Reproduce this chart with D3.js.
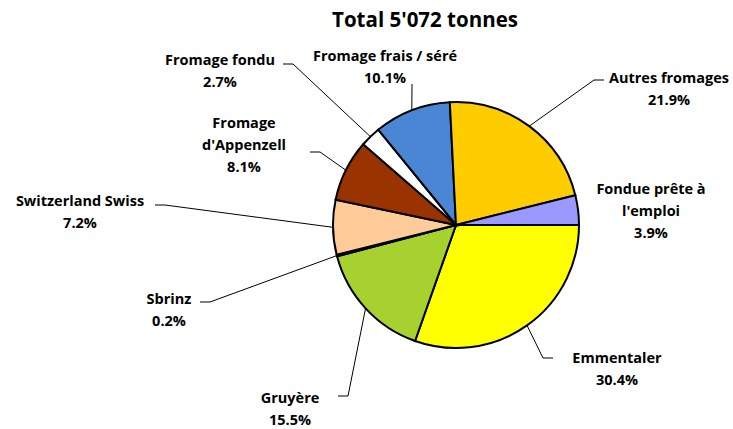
<!DOCTYPE html>
<html lang="fr">
<head>
    <meta charset="UTF-8">
    <title>Total 5'072 tonnes</title>
    <script src="https://d3js.org/d3.v7.min.js"></script>
    <style>
        body { margin: 0; background: #fff; }
        text { font-family: "Open Sans", Lato, sans-serif; font-weight: bold; fill: #000; }
        .slice { stroke: #000; stroke-width: 2; }
        .leader { stroke: #000; stroke-width: 1; fill: none; }
    </style>
</head>
<body>
    <script>
        // Data (clockwise from 3 o'clock)
        const categories = ["Emmentaler", "Gruyère", "Sbrinz", "Switzerland Swiss", "Fromage d'Appenzell",
                            "Fromage fondu", "Fromage frais / séré", "Autres fromages", "Fondue prête à l'emploi"];
        const shares = [30.4, 15.5, 0.2, 7.2, 8.1, 2.7, 10.1, 21.9, 3.9];
        const colors = ["#FFFF00", "#A6D12E", "#3a3a00", "#FFCC99", "#993300", "#FFFFFF", "#4A86D4", "#FFCC00", "#9999FF"];
        // label lines as drawn in the original
        const labelLines = [
            ["Emmentaler"], ["Gruyère"], ["Sbrinz"], ["Switzerland Swiss"], ["Fromage", "d'Appenzell"],
            ["Fromage fondu"], ["Fromage frais / séré"], ["Autres fromages"], ["Fondue prête à", "l'emploi"]
        ];
        const title = "Total 5'072 tonnes";

        // Layout: label centre (x, first baseline) and leader start point
        const labelPos = [
            { x: 617, y: 363, lx: 553, ly: 358 },
            { x: 290, y: 403, lx: 338, ly: 396 },
            { x: 169, y: 304, lx: 200, ly: 302 },
            { x: 80,  y: 206, lx: 155, ly: 205 },
            { x: 244, y: 128, lx: 310, ly: 152 },
            { x: 220, y: 65,  lx: 283, ly: 64 },
            { x: 385, y: 61,  lx: 412, ly: 84 },
            { x: 669, y: 83,  lx: 604, ly: 80 },
            { x: 651, y: 194, lx: null, ly: null }
        ];

        const W = 733, H = 429;
        const cx = 456, cy = 225, r = 123;
        const lineH = 22;

        const svg = d3.select("body").append("svg")
            .attr("width", W)
            .attr("height", H);

        svg.append("text")
            .attr("x", 425)
            .attr("y", 27)
            .attr("text-anchor", "middle")
            .style("font-size", "20.5px")
            .text(title);

        const pie = d3.pie()
            .sort(null)
            .startAngle(Math.PI / 2)
            .endAngle(Math.PI / 2 + 2 * Math.PI)
            .value(d => d);

        const arcs = pie(shares);
        const arc = d3.arc().innerRadius(0).outerRadius(r);

        const g = svg.append("g").attr("transform", `translate(${cx},${cy})`);

        g.selectAll(".slice")
            .data(arcs)
            .enter().append("path")
            .attr("class", "slice")
            .attr("d", arc)
            .attr("fill", (d, i) => colors[i]);

        // leader lines: short horizontal tick then to arc edge at mid-angle
        arcs.forEach((d, i) => {
            const p = labelPos[i];
            if (p.lx === null) return;
            const a = (d.startAngle + d.endAngle) / 2;
            const ex = cx + r * Math.sin(a);
            const ey = cy - r * Math.cos(a);
            const side = p.lx < cx ? 1 : -1;
            let path;
            if (i === 6) {
                path = `M${p.lx},${p.ly} L${ex},${ey}`;
            } else {
                path = `M${p.lx},${p.ly} L${p.lx + side * 10},${p.ly} L${ex},${ey}`;
            }
            svg.append("path").attr("class", "leader").attr("d", path);
        });

        const labels = svg.selectAll(".lbl")
            .data(arcs)
            .enter().append("text")
            .attr("class", "lbl")
            .attr("text-anchor", "middle")
            .style("font-size", "14.5px");

        labels.each(function(d, i) {
            const t = d3.select(this);
            const p = labelPos[i];
            const lines = labelLines[i].concat([shares[i].toFixed(1) + "%"]);
            lines.forEach((s, k) => {
                t.append("tspan")
                    .attr("x", p.x)
                    .attr("y", p.y + k * lineH)
                    .text(s);
            });
        });
    </script>
</body>
</html>
